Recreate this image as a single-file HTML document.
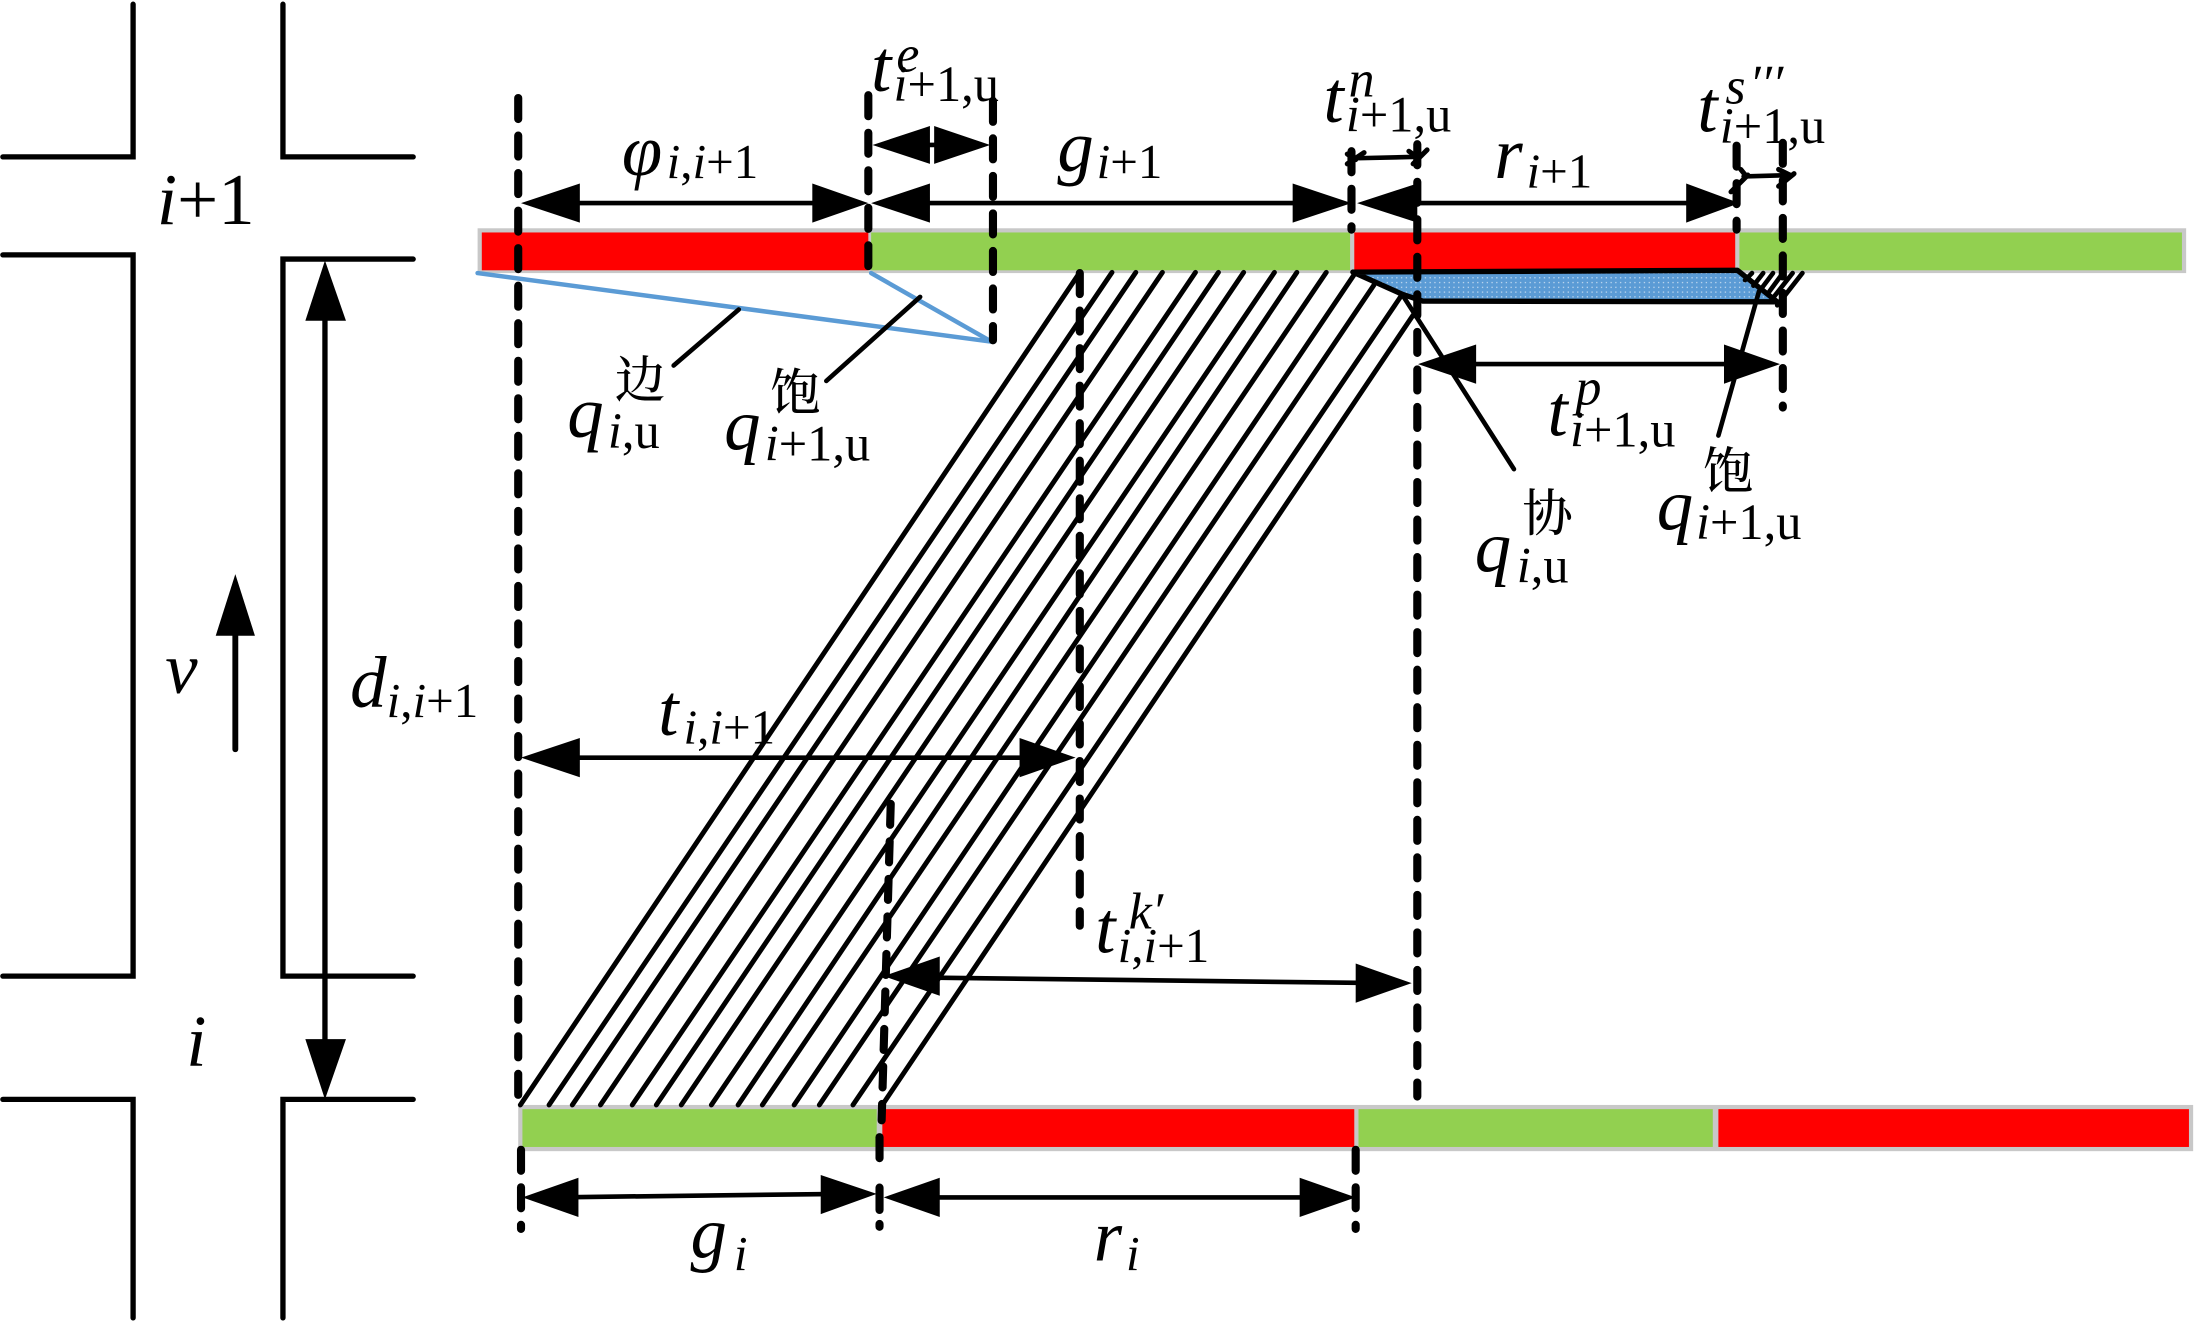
<!DOCTYPE html>
<html>
<head>
<meta charset="utf-8">
<style>
html,body{margin:0;padding:0;background:#fff;width:2196px;height:1323px;overflow:hidden}
svg{display:block}
svg text{font-family:"Liberation Serif","Times New Roman",Times,serif;fill:#000}
svg text.b{font-size:52px;font-style:italic}
svg text.m{font-size:36px}
svg text.m2{font-size:35px}
svg tspan.i{font-style:italic}
svg text.u{font-size:37px;font-style:italic}
svg text.c{font-family:"Liberation Serif","Noto Serif CJK SC",serif;font-size:36px;font-weight:500}
.road{fill:none;stroke:#000;stroke-width:3.8;stroke-linecap:round;stroke-linejoin:miter}
.dash{fill:none;stroke:#000;stroke-width:5.8;stroke-linecap:round;stroke-dasharray:15 11.8}
.l{fill:none;stroke:#000;stroke-width:3.3;stroke-linecap:round}
.d{fill:none;stroke:#000;stroke-width:3.5;stroke-linecap:round}
</style>
</head>
<body>
<svg width="2196" height="1323" viewBox="0 0 1568 944.7" xmlns="http://www.w3.org/2000/svg">
<defs>
<pattern id="dots" width="3.4" height="3.4" patternUnits="userSpaceOnUse">
<rect width="3.4" height="3.4" fill="#5b9bd5"/>
<circle cx="1.2" cy="1.2" r=".5" fill="#c9def2"/>
</pattern>
</defs>

<!-- roads -->
<path class="road" d="M2 112H95V3"/>
<path class="road" d="M202 3V112H295"/>
<path class="road" d="M2 182H95V697H2"/>
<path class="road" d="M295 185H202V697H295"/>
<path class="road" d="M2 785H95V941"/>
<path class="road" d="M295 785H202V941"/>

<!-- vertical arrows -->
<path class="l" style="stroke-width:3.8" d="M232 225V748"/>
<polygon points="232,186 218,229 247,229"/>
<polygon points="232,785 218,742 247,742"/>
<path class="l" style="stroke-width:4.2" d="M168 450V535"/>
<polygon points="168,410 154,454 182,454"/>

<!-- top signal bar -->
<rect x="341" y="163" width="1220" height="32" fill="#c8c8c8"/>
<rect x="344" y="166" width="276" height="27" fill="#ff0000"/>
<rect x="622" y="166" width="342" height="27" fill="#92d050"/>
<rect x="967" y="166" width="272" height="27" fill="#ff0000"/>
<rect x="1242" y="166" width="316" height="27" fill="#92d050"/>

<!-- bottom signal bar -->
<rect x="370" y="789" width="1196" height="33" fill="#c8c8c8"/>
<rect x="373" y="792" width="253" height="27" fill="#92d050"/>
<rect x="630" y="792" width="337" height="27" fill="#ff0000"/>
<rect x="970" y="792" width="253" height="27" fill="#92d050"/>
<rect x="1227" y="792" width="336" height="27" fill="#ff0000"/>

<!-- trajectories -->
<path class="d" d="M371.500 789L771 194.500"/>
<path class="d" d="M392 789L794 194.500"/>
<path class="d" d="M408.600 789L811 194.500"/>
<path class="d" d="M428.700 789L830 194.500"/>
<path class="d" d="M451.400 789L853.600 194.500"/>
<path class="d" d="M468.600 789L870 194.500"/>
<path class="d" d="M486.400 789L888 194.500"/>
<path class="d" d="M507.900 789L910 194.500"/>
<path class="d" d="M527 789L926 194.500"/>
<path class="d" d="M544.300 789L947 194.500"/>
<path class="d" d="M567 789L968 194.500"/>
<path class="d" d="M585 789L981 203.600"/>
<path class="d" d="M609 789L1000 212"/>
<path class="d" d="M630 789L1009 225"/>

<!-- queue polygon -->
<polygon points="966,194.300 1240.600,193 1268,215 1016,215 1001,210" fill="url(#dots)"/>
<path fill="none" stroke="#000" stroke-width="3.800" stroke-linejoin="round" stroke-linecap="round" d="M966 194.300L1240.600 193L1269 215.500L1016 215L1001 210L966 194.300"/>
<path class="l" d="M1251 195L1246 200"/>
<path class="l" d="M1259 195L1252 204"/>
<path class="l" d="M1266 195L1257 207"/>
<path class="l" d="M1273 195L1262 210"/>
<path class="l" d="M1280 195L1265 214"/>
<path class="l" d="M1287 195L1269 218"/>

<!-- blue lines -->
<path fill="none" stroke="#5b9bd5" stroke-width="3.200" stroke-linecap="round" d="M341 195L708 244L622 195"/>

<!-- dashed verticals -->
<path class="dash" d="M370 70V789"/>
<path class="dash" d="M620 68V190"/>
<path class="dash" d="M709 72V243"/>
<path class="dash" d="M965 108V164"/>
<path class="dash" d="M1012 103V783"/>
<path class="dash" d="M1240 104V164"/>
<path class="dash" d="M1273 102V291"/>
<path class="dash" d="M771 195V661"/>
<path class="dash" d="M636 574L629.500 800"/>
<path class="dash" d="M628 812V836"/>
<path class="dash" style="stroke-dasharray:none" d="M628 848V864M628 874V876"/>
<path class="dash" d="M372 821V877.500"/>
<path class="dash" d="M968 821V877.500"/>

<!-- leader lines -->
<path class="l" d="M527.500 221L481 261"/>
<path class="l" d="M657 212L590 272"/>
<path class="l" d="M1001 210L1081 335"/>
<path class="l" d="M1256 208L1227 311"/>

<!-- horizontal dimension arrows -->
<path class="l" d="M400 145H590"/>
<polygon points="372,145 414,131 414,159"/>
<polygon points="620,145 580,131 580,159"/>

<path class="l" d="M650 145H935"/>
<polygon points="622,145 664,131 664,159"/>
<polygon points="965,145 923,131 923,159"/>

<path class="l" d="M1000 145H1210"/>
<polygon points="969,145 1012,131 1012,159"/>
<polygon points="1242,145 1204,131 1204,159"/>

<polygon points="623,103.500 664,90 664,117"/>
<polygon points="707,103.500 667,90 667,117"/>
<path class="l" d="M660 103.500H670"/>

<path class="l" d="M1040 260H1245"/>
<polygon points="1012.500,260 1054,246 1054,274"/>
<polygon points="1271,260 1231,246 1231,274"/>

<path class="l" d="M395 541H745"/>
<polygon points="372,541 414,527 414,555"/>
<polygon points="768,541 728,527 728,555"/>

<path class="l" d="M660 698L985 702"/>
<polygon points="631,697 671,683 671,711"/>
<polygon points="1008,702 968,688 968,716"/>

<path class="l" d="M395 855L600 852.500"/>
<polygon points="373,855 413,841 413,869"/>
<polygon points="626,852.500 586,839 586,867"/>

<path class="l" d="M650 855H945"/>
<polygon points="631,855 671,841 671,869"/>
<polygon points="968,855 928,841 928,869"/>

<!-- small arrows -->
<path class="l" d="M968 113L1012 112"/>
<path class="l" style="stroke-width:3.6" d="M962 117L974 109M962 110L968 114M1009 117L1019 107M1006 108L1013 113"/>
<path class="l" d="M1245 126L1280 125"/>
<path class="l" style="stroke-width:3.6" d="M1236 137L1248 125M1243 121L1247 126M1270 133L1281 124M1270 121L1278 125"/>

<!-- labels -->
<text class="b" x="112" y="160">i<tspan font-style="normal">+1</tspan></text>
<text class="b" x="133" y="761">i</text>
<text class="b" x="118" y="495">v</text>
<text class="b" x="250" y="505">d</text>
<text class="m2" x="276" y="512"><tspan class="i">i</tspan>,<tspan class="i">i</tspan>+1</text>

<text class="b" x="444" y="125">φ</text>
<text class="m2" x="476" y="127"><tspan class="i">i</tspan>,<tspan class="i">i</tspan>+1</text>

<text class="b" x="622" y="65">t</text>
<text class="u" x="640" y="51">e</text>
<text class="m" x="638" y="72"><tspan class="i">i</tspan>+1,u</text>

<text class="b" x="755" y="122">g</text>
<text class="m2" x="783" y="127"><tspan class="i">i</tspan>+1</text>

<text class="b" x="945" y="87">t</text>
<text class="u" x="963" y="69">n</text>
<text class="m" x="961" y="94"><tspan class="i">i</tspan>+1,u</text>

<text class="b" x="1067" y="127">r</text>
<text class="m2" x="1090" y="134"><tspan class="i">i</tspan>+1</text>

<text class="b" x="1212" y="94">t</text>
<text class="u" x="1232" y="74">s</text>
<text class="u" x="1249" y="72">′′′</text>
<text class="m" x="1228" y="102"><tspan class="i">i</tspan>+1,u</text>

<text class="b" x="1105" y="311">t</text>
<text class="u" x="1125" y="289">p</text>
<text class="m" x="1121" y="319"><tspan class="i">i</tspan>+1,u</text>

<text class="c" x="439" y="284">边</text>
<text class="b" x="405" y="312">q</text>
<text class="m" x="434" y="320"><tspan class="i">i</tspan>,u</text>

<text class="c" x="550" y="293">饱</text>
<text class="b" x="517" y="321">q</text>
<text class="m" x="546" y="329"><tspan class="i">i</tspan>+1,u</text>

<text class="c" x="1087" y="379">协</text>
<text class="b" x="1053" y="408">q</text>
<text class="m" x="1083" y="416"><tspan class="i">i</tspan>,u</text>

<text class="c" x="1216" y="349">饱</text>
<text class="b" x="1183" y="378">q</text>
<text class="m" x="1211" y="385"><tspan class="i">i</tspan>+1,u</text>

<text class="b" x="470" y="525">t</text>
<text class="m2" x="488" y="531"><tspan class="i">i</tspan>,<tspan class="i">i</tspan>+1</text>

<text class="b" x="782" y="680">t</text>
<text class="u" x="806" y="663">k′</text>
<text class="m2" x="798" y="687"><tspan class="i">i</tspan>,<tspan class="i">i</tspan>+1</text>

<text class="b" x="493" y="898">g</text>
<text class="m2" x="524" y="907" font-style="italic">i</text>

<text class="b" x="781" y="900">r</text>
<text class="m2" x="804" y="907" font-style="italic">i</text>
</svg>
</body>
</html>
